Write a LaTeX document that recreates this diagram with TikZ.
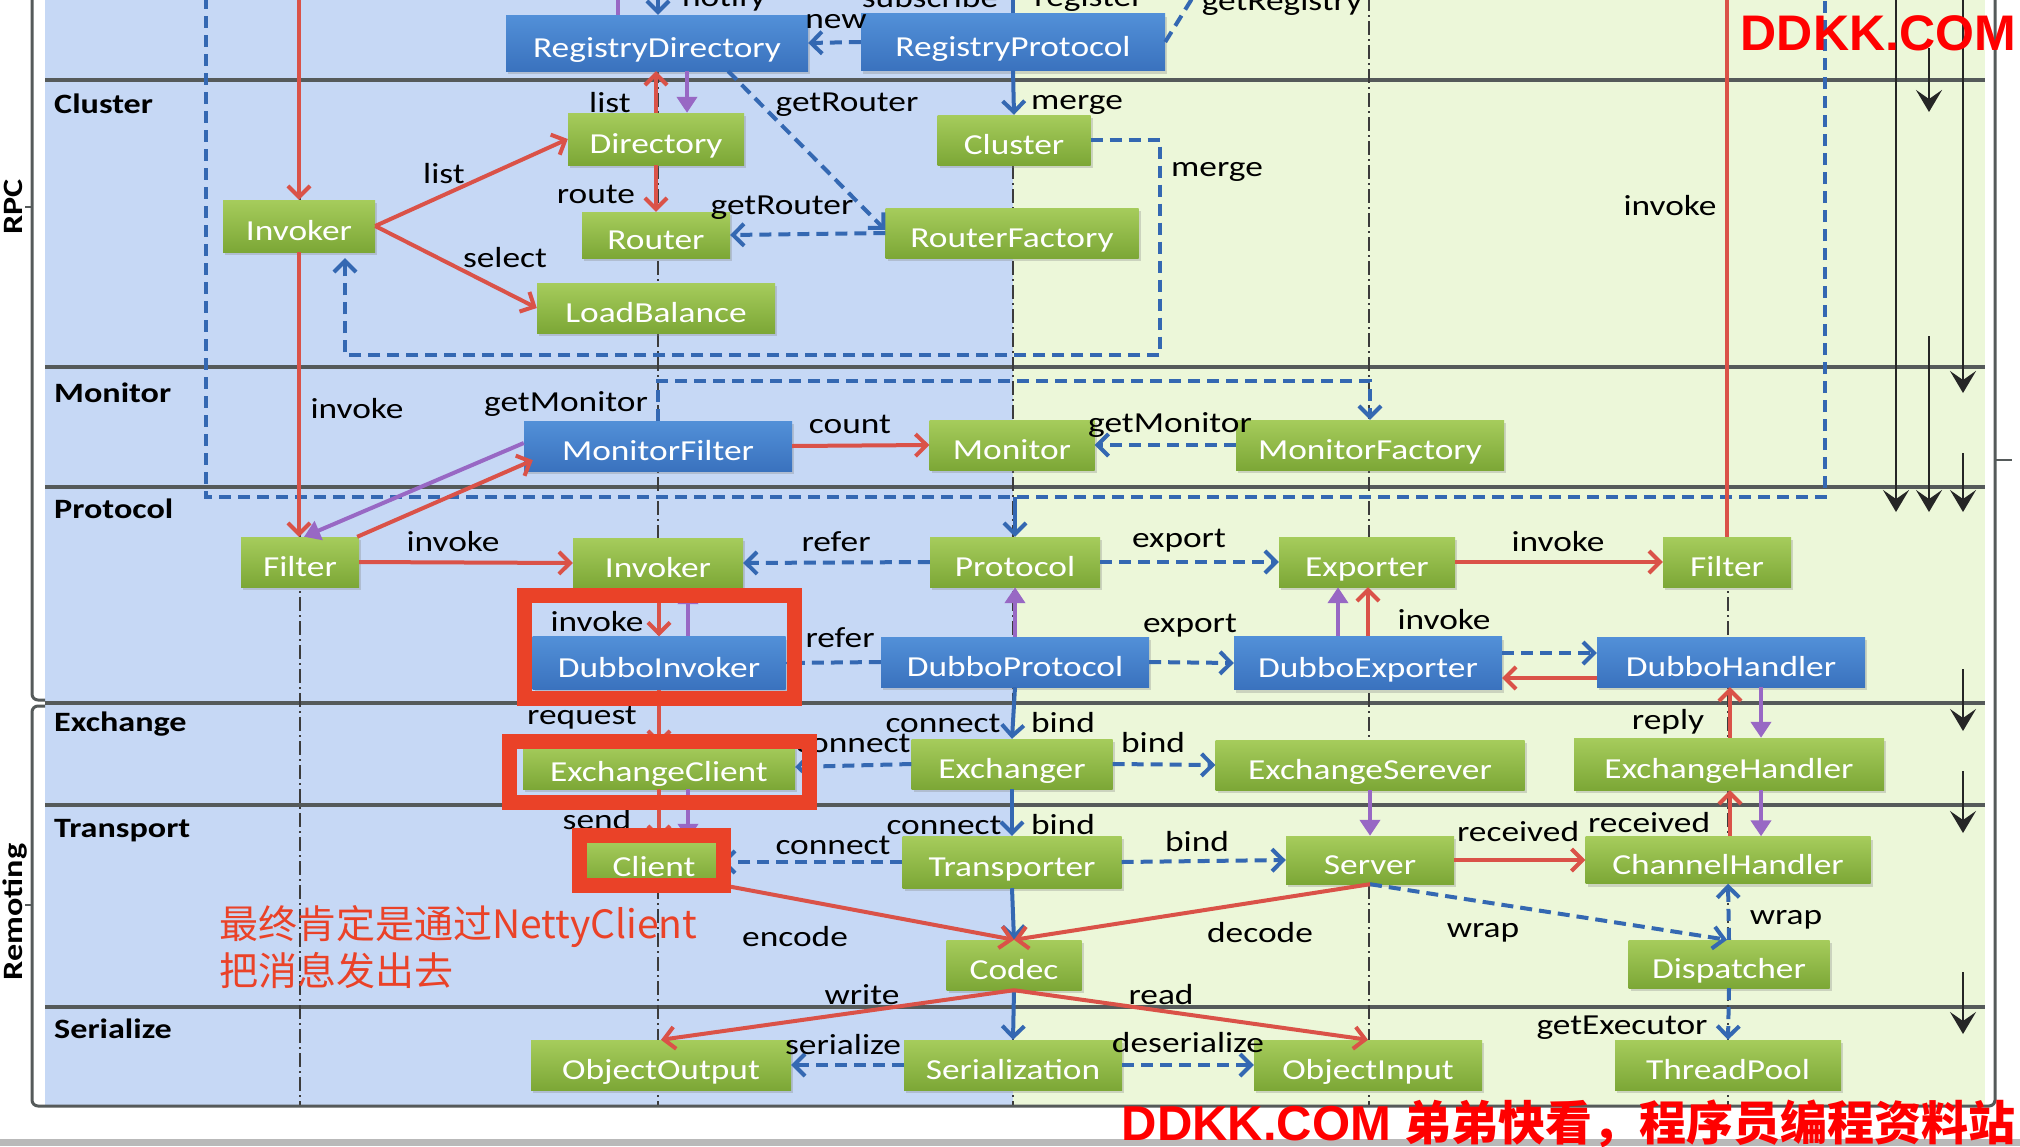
\documentclass[tikz,border=0pt]{standalone}
\usepackage{fontspec}
\setmainfont{Carlito}[FakeStretch=1.22]
\newfontfamily\cjkfont{Noto Sans CJK SC}
\newfontfamily\wmfont{Liberation Sans}
\usetikzlibrary{arrows.meta,shadows,calc}

\definecolor{bgblue}{RGB}{198,216,245}
\definecolor{bggreen}{RGB}{236,247,217}
\definecolor{gtop}{RGB}{166,204,92}
\definecolor{gbot}{RGB}{124,167,54}
\definecolor{btop}{RGB}{82,144,216}
\definecolor{bbot}{RGB}{58,114,190}
\definecolor{redc}{RGB}{218,82,72}
\definecolor{bluec}{RGB}{52,104,178}
\definecolor{purc}{RGB}{152,104,196}
\definecolor{sepc}{RGB}{85,90,90}
\definecolor{guidec}{RGB}{60,60,60}
\definecolor{hlred}{RGB}{234,66,40}
\definecolor{wmred}{RGB}{255,0,0}

\newcommand\boxfont{\fontsize{29}{34}\selectfont}
\newcommand\lblfont{\fontsize{29}{34}\selectfont}
\newcommand\layfont{\fontsize{28}{34}\selectfont\bfseries}

\tikzset{
 box/.style={rectangle, inner sep=0pt, minimum height=50pt, text=white, font=\boxfont,
   text height=30pt, text depth=1pt,
   drop shadow={shadow xshift=2pt, shadow yshift=-3pt, opacity=0.3}},
 greenbox/.style={box, top color=gtop, bottom color=gbot},
 bluebox/.style={box, top color=btop, bottom color=bbot},
 lbl/.style={font=\lblfont, text=black, inner sep=0pt, anchor=base},
 layer/.style={font=\layfont, text=black, inner sep=0pt, anchor=base west},
 redarr/.style={draw=redc, line width=4pt, -{Straight Barb[length=11pt,width=22pt]}},
 redline/.style={draw=redc, line width=4pt},
 purarr/.style={draw=purc, line width=4pt, -{Triangle[length=16pt,width=20pt]}},
 purline/.style={draw=purc, line width=4pt},
 bluearr/.style={draw=bluec, line width=4pt, -{Straight Barb[length=11pt,width=22pt]}},
 bluedash/.style={bluearr, dash pattern=on 12pt off 7pt},
 dashline/.style={draw=bluec, line width=4pt, dash pattern=on 12pt off 7pt},
 sep/.style={draw=sepc, line width=3.5pt},
 guide/.style={draw=guidec, line width=1.8pt, dash pattern=on 14pt off 4pt on 2pt off 4pt},
 blackarr/.style={draw=black!85, line width=2.5pt, -{Stealth[length=22pt,width=26pt,inset=9pt]}},
 hl/.style={draw=hlred, line width=15pt},
}

\begin{document}
\begin{tikzpicture}[x=1pt,y=-1pt]
\useasboundingbox (0,0) rectangle (2020,1146);
\clip (0,0) rectangle (2020,1146);
\fill[white] (0,0) rectangle (2020,1146);
\fill[gray!55] (0,1139) rectangle (2020,1146);

% panels
\fill[bgblue] (45,-3) rectangle (1013,1106);
\fill[bggreen] (1013,-3) rectangle (1985,1106);
\foreach \yy in {80,367,487,703,805,1007} {\draw[sep] (45,\yy) -- (1985,\yy);}
\foreach \xx in {300,658,1013,1369,1728} {\draw[guide] (\xx,-3) -- (\xx,1106);}

% brackets and frame
\draw[sepc, line width=3pt, rounded corners=6pt] (45,700) -- (32,700) -- (32,-3);
\draw[sepc, line width=3pt, rounded corners=6pt] (45,706) -- (32,706) -- (32,1106) -- (1995,1106) -- (1995,-3);
\draw[sepc, line width=2.5pt] (32,207) -- (25,207);
\draw[sepc, line width=2.5pt] (32,905) -- (25,905);
\draw[sepc, line width=2.5pt] (1995,460) -- (2012,460);
\node[font=\layfont, rotate=90, anchor=base, inner sep=0pt] (Lrpc) at (23,207) {RPC};
\node[font=\layfont, rotate=90, anchor=base, inner sep=0pt] (Lrem) at (23,912) {Remoting};

% layer names
\node[layer] (Lcl) at (54,113) {Cluster};
\node[layer] (Lmo) at (54,402) {Monitor};
\node[layer] (Lpr) at (54,518) {Protocol};
\node[layer] (Lex) at (54,731) {Exchange};
\node[layer] (Ltr) at (54,837) {Transport};
\node[layer] (Lse) at (54,1038) {Serialize};

% big dashed frames
\coordinate (w1) at (206,-3);
\coordinate (w2) at (206,497);
\coordinate (w3) at (1825,497);
\coordinate (w4) at (1825,-3);
\draw[dashline] (w1) -- (w2) -- (w3) -- (w4);

% boxes
\node[bluebox, minimum width=302pt, minimum height=56pt] (rd) at (657,43) {RegistryDirectory};
\node[bluebox, minimum width=304pt, minimum height=57pt] (rp) at (1013,42) {RegistryProtocol};
\node[greenbox, minimum width=152pt, minimum height=52pt] (inv1) at (299,226) {Invoker};
\node[greenbox, minimum width=176pt, minimum height=52pt] (dir) at (656,139) {Directory};
\node[greenbox, minimum width=148pt, minimum height=46pt] (router) at (656,235) {Router};
\node[greenbox, minimum width=238pt] (lb) at (656,308) {LoadBalance};
\node[greenbox, minimum width=153pt] (cluster) at (1014,140) {Cluster};
\node[greenbox, minimum width=253pt] (rf) at (1012,233) {RouterFactory};
\node[bluebox, minimum width=268pt] (mf) at (658,446) {MonitorFilter};
\node[greenbox, minimum width=165pt] (mon) at (1012,445) {Monitor};
\node[greenbox, minimum width=268pt] (mfac) at (1370,445) {MonitorFactory};
\node[greenbox, minimum width=118pt] (filter1) at (300,562) {Filter};
\node[greenbox, minimum width=170pt] (inv2) at (658,563) {Invoker};
\node[greenbox, minimum width=170pt] (proto) at (1015,562) {Protocol};
\node[greenbox, minimum width=176pt] (exp) at (1367,562) {Exporter};
\node[greenbox, minimum width=128pt] (filter2) at (1727,562) {Filter};
\node[bluebox, minimum width=253pt, minimum height=53pt] (di) at (659,663) {DubboInvoker};
\node[bluebox, minimum width=268pt] (dp) at (1015,662) {DubboProtocol};
\node[bluebox, minimum width=268pt, minimum height=53pt] (de) at (1368,663) {DubboExporter};
\node[bluebox, minimum width=268pt] (dh) at (1731,662) {DubboHandler};
\node[greenbox, minimum width=272pt, minimum height=44pt] (ec) at (659,767) {ExchangeClient};
\node[greenbox, minimum width=201pt] (exr) at (1012,764) {Exchanger};
\node[greenbox, minimum width=309pt] (es) at (1370,765) {ExchangeSerever};
\node[greenbox, minimum width=310pt, minimum height=52pt] (eh) at (1729,764) {ExchangeHandler};
\node[greenbox, minimum width=134pt, minimum height=44pt] (client) at (654,862) {Client};
\node[greenbox, minimum width=219pt, minimum height=52pt] (tr) at (1012,862) {Transporter};
\node[greenbox, minimum width=168pt, minimum height=48pt] (server) at (1370,860) {Server};
\node[greenbox, minimum width=285pt, minimum height=47pt] (ch) at (1728,860) {ChannelHandler};
\node[greenbox, minimum width=135pt] (codec) at (1014,965) {Codec};
\node[greenbox, minimum width=201pt, minimum height=48pt] (disp) at (1729,964) {Dispatcher};
\node[greenbox, minimum width=260pt] (oo) at (661,1065) {ObjectOutput};
\node[greenbox, minimum width=218pt] (ser) at (1013,1065) {Serialization};
\node[greenbox, minimum width=228pt] (oi) at (1368,1065) {ObjectInput};
\node[greenbox, minimum width=226pt] (tp) at (1728,1065) {ThreadPool};

% top connectors
\coordinate (trdp) at (618,-3);
\coordinate (trdb) at (658,-3);
\coordinate (trp) at (1013,-3);
\coordinate (tgr) at (1193,-3);
\coordinate (tinv) at (299,-3);
\coordinate (tf2) at (1727,-3);
\draw[purline] (trdp) -- (trdp |- rd.north);
\draw[bluearr] (trdb) -- (trdb |- rd.north);
\draw[draw=bluec, line width=4pt] (trp) -- (rp.north);
\draw[dashline] (rp.east) -- (tgr);
\draw[bluedash] (rp.west) -- (rd.east);
\draw[bluearr] (rp.south) -- (cluster.north);

% cluster
\draw[redarr] (tinv) -- (inv1.north);
\draw[redarr] (inv1.east) -- (dir.west);
\draw[redarr] (inv1.east) -- (lb.west);
\draw[redarr] (dir.north) -- (rd.south -| dir.north);
\draw[purarr] (rd.south -| 687,0) -- (dir.north -| 687,0);
\draw[redarr] (dir.south) -- (router.north);
\draw[bluedash] ([xshift=-80pt]rd.south east) -- ([yshift=3pt]rf.west);
\draw[bluedash] (rf.west) -- (router.east);
\coordinate (mg1) at (1160,355);
\draw[bluedash] (cluster.east) -| (mg1) -| ([xshift=46pt,yshift=-6pt]inv1.south);

% monitor
\draw[bluearr] (proto.north |- w2) -- (proto.north);
\coordinate (gm) at (1000,381);
\draw[bluedash] (mf.north) |- (gm) -| (mfac.north);
\draw[redarr] ([xshift=-2pt]filter1.north east) -- ([xshift=9pt,yshift=11pt]mf.south west);
\draw[purarr] ([yshift=3pt]mf.west) -- ([xshift=4pt]filter1.north);
\draw[redarr] (mf.east) -- (mon.west);
\draw[bluedash] (mfac.west) -- (mon.east);
\draw[redarr] (inv1.south) -- (inv1.south |- filter1.north);

% protocol
\draw[redarr] (filter1.east) -- (inv2.west);
\draw[bluedash] (proto.west) -- (inv2.east);
\draw[bluedash] (proto.east) -- (exp.west);
\draw[redarr] (exp.east) -- (filter2.west);
\draw[redline] (filter2.north) -- (tf2);
\draw[redarr] (inv2.south -| 659,0) -- (di.north -| 659,0);
\draw[purarr] (di.north -| 688,0) -- (inv2.south -| 688,0);
\draw[bluedash] (dp.west) -- (di.east);
\draw[purarr] (dp.north) -- (proto.south);
\draw[bluedash] (dp.east) -- (de.west);
\draw[purarr] (de.north -| 1338,0) -- (exp.south -| 1338,0);
\draw[redarr] (de.north -| 1368,0) -- (exp.south -| 1368,0);
\draw[bluedash] (de.east |- 0,653) -- (dh.west |- 0,653);
\draw[redarr] (dh.west |- 0,678) -- (de.east |- 0,678);
\draw[bluearr] (dp.south) -- (exr.north);

% exchange
\draw[redarr] (di.south -| 659,0) -- (ec.north -| 659,0);
\draw[bluedash] (exr.west) -- (ec.east);
\draw[bluedash] (exr.east) -- (es.west);
\draw[redarr] (eh.north -| 1730,0) -- (dh.south -| 1730,0);
\draw[purarr] (dh.south -| 1761,0) -- (eh.north -| 1761,0);
\draw[redarr] (ec.south -| 659,0) -- (client.north -| 659,0);
\draw[purarr] (ec.south -| 688,0) -- (client.north -| 688,0);
\draw[purarr] (es.south) -- (server.north);
\draw[bluearr] (exr.south) -- (tr.north);
\draw[redarr] (ch.north -| 1730,0) -- (eh.south -| 1730,0);
\draw[purarr] (eh.south -| 1761,0) -- (ch.north -| 1761,0);

% transport
\draw[bluedash] (tr.west) -- (client.east);
\draw[bluedash] (tr.east) -- (server.west);
\draw[redarr] (server.east) -- (ch.west);
\draw[bluedash] (server.south) -- ([xshift=-2pt]disp.north);
\draw[bluedash] (disp.north) -- (ch.south);
\draw[bluearr] (tr.south) -- (codec.north);
\draw[redarr] ([xshift=-4pt]client.south east) -- (codec.north);
\draw[redarr] (server.south) -- (codec.north);
\draw[bluedash] (disp.south) -- (tp.north);

% serialize
\draw[bluearr] (codec.south) -- (ser.north);
\draw[redarr] (codec.south) -- (oo.north);
\draw[redarr] (codec.south) -- (oi.north);
\draw[bluedash] (ser.west) -- (oo.east);
\draw[bluedash] (ser.east) -- (oi.west);

% right black arrows
\coordinate (ba1s) at (1896,-3);   \coordinate (ba1e) at (1896,512);
\coordinate (ba2s) at (1929,48);   \coordinate (ba2e) at (1929,112);
\coordinate (ba3s) at (1929,336);  \coordinate (ba3e) at (1929,512);
\coordinate (ba4s) at (1963,-3);   \coordinate (ba4e) at (1963,393);
\coordinate (ba5s) at (1963,453);  \coordinate (ba5e) at (1963,512);
\coordinate (ba6s) at (1963,669);  \coordinate (ba6e) at (1963,731);
\coordinate (ba7s) at (1963,771);  \coordinate (ba7e) at (1963,833);
\coordinate (ba8s) at (1963,972);  \coordinate (ba8e) at (1963,1034);
\foreach \i in {1,...,8} {\draw[blackarr] (ba\i s) -- (ba\i e);}

% labels
\node[lbl] (lnotify) at (724,6) {notify};
\node[lbl] (lsub) at (930,7) {subscribe};
\node[lbl] (lreg) at (1089,6) {register};
\node[lbl] (lgetreg) at (1282,10) {getRegistry};
\node[lbl] (lnew) at (836,28) {new};
\node[lbl] (llist1) at (610,112) {list};
\node[lbl] (llist2) at (444,183) {list};
\node[lbl] (lroute) at (596,203) {route};
\node[lbl] (lselect) at (505,267) {select};
\node[lbl] (lgr1) at (847,111) {getRouter};
\node[lbl] (lgr2) at (782,214) {getRouter};
\node[lbl] (lmerge1) at (1077,109) {merge};
\node[lbl] (lmerge2) at (1217,176) {merge};
\node[lbl] (linv1) at (1670,215) {invoke};
\node[lbl] (linv2) at (357,418) {invoke};
\node[lbl] (lgm1) at (566,411) {getMonitor};
\node[lbl] (lcount) at (850,433) {count};
\node[lbl] (lgm2) at (1170,432) {getMonitor};
\node[lbl] (linv3) at (453,551) {invoke};
\node[lbl] (lrefer1) at (836,551) {refer};
\node[lbl] (lexport1) at (1179,547) {export};
\node[lbl] (linv4) at (1558,551) {invoke};
\node[lbl] (linv5) at (597,631) {invoke};
\node[lbl] (lrefer2) at (840,647) {refer};
\node[lbl] (lexport2) at (1190,632) {export};
\node[lbl] (linv6) at (1444,629) {invoke};
\node[lbl] (lreq) at (582,724) {request};
\node[lbl] (lconn1) at (943,732) {connect};
\node[lbl] (lbind1) at (1063,732) {bind};
\node[lbl] (lreply) at (1668,729) {reply};
\node[lbl] (lconn2) at (853,752) {connect};
\node[lbl] (lbind2) at (1153,752) {bind};
\node[lbl] (lsend) at (597,829) {send};
\node[lbl] (lconn3) at (944,834) {connect};
\node[lbl] (lbind3) at (1063,834) {bind};
\node[lbl] (lrec1) at (1649,832) {received};
\node[lbl] (lconn4) at (833,854) {connect};
\node[lbl] (lbind4) at (1197,851) {bind};
\node[lbl] (lrec2) at (1518,841) {received};
\node[lbl] (lenc) at (795,946) {encode};
\node[lbl] (ldec) at (1260,942) {decode};
\node[lbl] (lwrap1) at (1483,937) {wrap};
\node[lbl] (lwrap2) at (1786,924) {wrap};
\node[lbl] (lwrite) at (862,1004) {write};
\node[lbl] (lread) at (1161,1004) {read};
\node[lbl] (lgetex) at (1622,1034) {getExecutor};
\node[lbl] (lser) at (843,1054) {serialize};
\node[lbl] (ldeser) at (1188,1052) {deserialize};

% highlights
\draw[hl] (524.5,595) rectangle (794.5,698);
\draw[hl] (509.5,741.5) rectangle (809.5,802.5);
\draw[hl] (579.5,835.5) rectangle (723.5,885.5);

% annotation
\node[anchor=base west, text=hlred, font=\cjkfont\fontsize{39}{47}\selectfont, inner sep=0pt] (note1) at (219,938) {最终肯定是通过NettyClient};
\node[anchor=base west, text=hlred, font=\cjkfont\fontsize{39}{47}\selectfont, inner sep=0pt] (note2) at (219,985) {把消息发出去};

% watermarks
\node[anchor=base east, text=wmred, font=\wmfont\fontsize{50}{60}\selectfont\bfseries, inner sep=0pt] (wm1) at (2016,50) {DDKK.COM};
\node[anchor=base east, text=wmred, inner sep=0pt] (wm2) at (2016,1140) {{\wmfont\fontsize{49}{56}\selectfont\bfseries DDKK.COM }{\cjkfont\fontsize{47}{56}\selectfont\bfseries 弟弟快看，程序员编程资料站}};
\end{tikzpicture}
\end{document}
